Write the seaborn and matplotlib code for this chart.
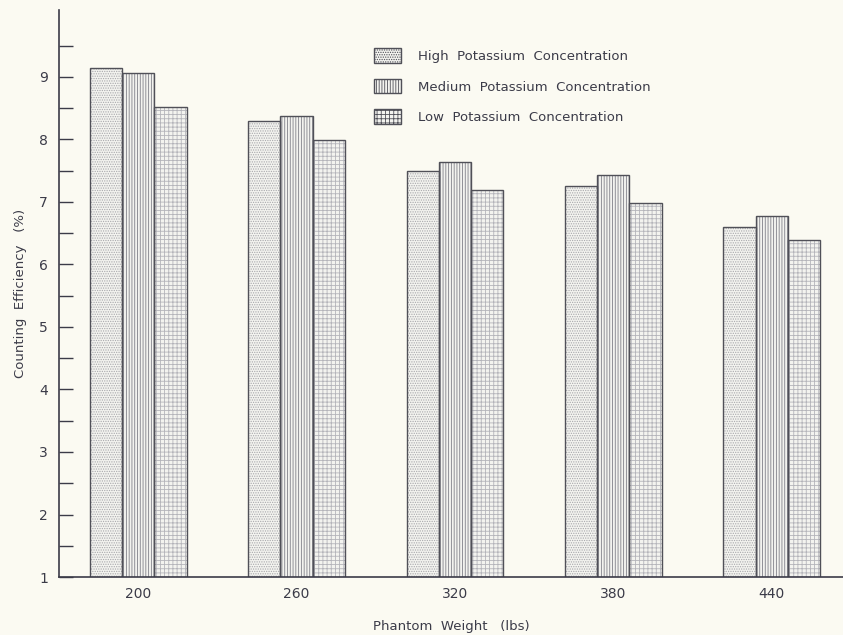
import numpy as np
import pandas as pd
import matplotlib
matplotlib.use('Agg')
import matplotlib.pyplot as plt
from matplotlib.patches import Rectangle
import seaborn as sns

weights = ['200', '260', '320', '380', '440']
high_k = [9.14, 8.30, 7.50, 7.26, 6.60]
medium_k = [9.06, 8.38, 7.64, 7.43, 6.78]
low_k = [8.52, 7.99, 7.19, 6.98, 6.39]
levels = ['High  Potassium  Concentration',
          'Medium  Potassium  Concentration',
          'Low  Potassium  Concentration']

rows = []
for lvl, vals in zip(levels, [high_k, medium_k, low_k]):
    for w, v in zip(weights, vals):
        rows.append({'weight': w, 'eff': v, 'level': lvl})
df = pd.DataFrame(rows)

sns.set_style('white')
plt.rcParams['font.family'] = ['DejaVu Sans']
plt.rcParams['hatch.linewidth'] = 0.6

bg = '#fbfaf2'
ink = '#3b3b48'
outline = '#505058'
fig = plt.figure(figsize=(8.43, 6.35), dpi=100, facecolor=bg)
ax = fig.add_axes([0.070, 0.0913, 0.930, 0.893], facecolor=bg)

sns.barplot(data=df, x='weight', y='eff', hue='level', hue_order=levels,
            palette=['#f4f3ee', '#f4f3ee', '#f4f3ee'], width=0.61, gap=0,
            edgecolor=outline, linewidth=1.0, ax=ax, errorbar=None)

hatches = ['.......', '||||||', '++++']
hatch_cols = ['#a8a8ac', '#808088', '#b4b4ba']

# hatch drawn in a light gray, then a dark outline on top of each bar
for cont, h, hc in zip(ax.containers, hatches, hatch_cols):
    for p in cont:
        p.set_hatch(h)
        p.set_edgecolor(hc)
        p.set_linewidth(0)
        ax.add_patch(Rectangle(p.get_xy(), p.get_width(), p.get_height(),
                               fill=False, edgecolor=outline, linewidth=1.0))

ax.set_ylim(1, 10.07)
ax.set_xlim(-0.5, 4.45)
ax.set_yticks(np.arange(1, 10))
ax.set_yticks(np.arange(1.5, 10, 1), minor=True)
ax.tick_params(axis='y', which='both', direction='in', length=10, width=1.0,
               color=ink, labelsize=10, labelcolor=ink, pad=8, left=True)
ax.tick_params(axis='x', length=0, labelsize=10, labelcolor=ink, pad=7)
for s in ['top', 'right']:
    ax.spines[s].set_visible(False)
for s in ['left', 'bottom']:
    ax.spines[s].set_color(ink)
    ax.spines[s].set_linewidth(1.2)
    ax.spines[s].set_zorder(5)

ax.set_xlabel('Phantom  Weight   (lbs)', fontsize=9.5, color=ink, labelpad=14)
ax.set_ylabel('Counting  Efficiency   (%)', fontsize=9.5, color=ink, labelpad=9)

leg = ax.legend(loc='upper left', bbox_to_anchor=(0.386, 0.953), frameon=False,
                fontsize=9.5, handlelength=2.1, handleheight=1.3,
                labelspacing=1.2, handletextpad=1.3, labelcolor=ink)
for h, hh in zip(leg.legend_handles, hatches):
    h.set_hatch(hh)
    h.set_edgecolor(outline)

fig.savefig('out.png', dpi=100, facecolor=bg)
